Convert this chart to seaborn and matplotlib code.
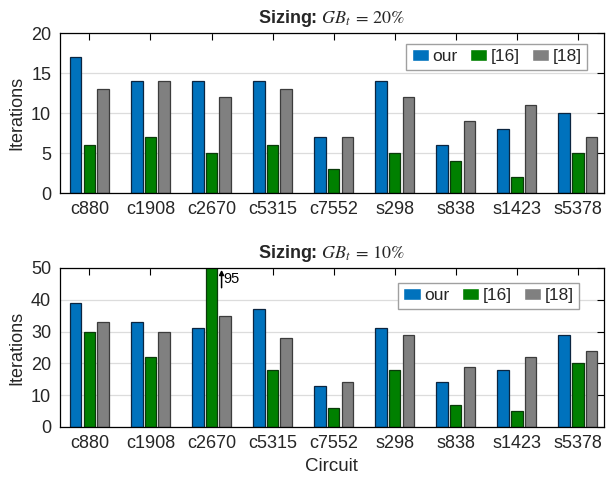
import matplotlib
matplotlib.use("Agg")
import matplotlib.pyplot as plt
import seaborn as sns
import pandas as pd

circuits = ["c880", "c1908", "c2670", "c5315", "c7552", "s298", "s838", "s1423", "s5378"]
methods = ["our", "[16]", "[18]"]

# Iterations at GB_t = 20%
gb20_our = [17, 14, 14, 14, 7, 14, 6, 8, 10]
gb20_ref16 = [6, 7, 5, 6, 3, 5, 4, 2, 5]
gb20_ref18 = [13, 14, 12, 13, 7, 12, 9, 11, 7]

# Iterations at GB_t = 10%
gb10_our = [39, 33, 31, 37, 13, 31, 14, 18, 29]
gb10_ref16 = [30, 22, 95, 18, 6, 18, 7, 5, 20]
gb10_ref18 = [33, 30, 35, 28, 14, 29, 19, 22, 24]

top_ticks = [0, 5, 10, 15, 20]
bottom_ticks = [0, 10, 20, 30, 40, 50]

colors = {"our": "#0072BD", "[16]": "#008000", "[18]": "#808080"}
edges = {"our": "#0B2540", "[16]": "#0A3A0A", "[18]": "#3C3C3C"}


def long_frame(our, r16, r18):
    rows = []
    for name, vals in zip(methods, [our, r16, r18]):
        for c, v in zip(circuits, vals):
            rows.append({"Circuit": c, "Method": name, "Iterations": v})
    return pd.DataFrame(rows)


sns.set_style("white")
plt.rcParams["font.family"] = ["Liberation Sans", "DejaVu Sans"]
plt.rcParams["mathtext.fontset"] = "stix"

fig = plt.figure(figsize=(6.06, 4.84), dpi=100)
ax_top = fig.add_axes([0.0982, 0.6012, 0.8985, 0.3306])
ax_bot = fig.add_axes([0.0982, 0.1178, 0.8985, 0.3285])


def draw(ax, df, ticks, ymax, title, legend_anchor):
    sns.barplot(data=df, x="Circuit", y="Iterations", hue="Method",
                hue_order=methods, order=circuits, palette=colors,
                width=0.675, gap=0.156, ax=ax, errorbar=None, saturation=1)
    for cont, m in zip(ax.containers, methods):
        for p in cont.patches:
            p.set_edgecolor(edges[m])
            p.set_linewidth(0.9)
    ax.set_ylim(0, ymax)
    ax.set_xlim(-0.49, 8.43)
    ax.set_yticks(ticks)
    ax.yaxis.grid(True, color="#dcdcdc", linewidth=0.9)
    ax.set_axisbelow(True)
    for s in ax.spines.values():
        s.set_visible(True)
        s.set_color("black")
        s.set_linewidth(0.9)
    ax.tick_params(direction="in", length=5, width=0.8, top=True, right=True,
                   labelsize=13, colors="black", labelcolor="#262626", pad=6)
    ax.set_ylabel("Iterations", fontsize=13, color="#262626", labelpad=4)
    ax.set_title(title, fontsize=13, fontweight="bold", pad=7)
    handles, labels = ax.get_legend_handles_labels()
    ax.legend(handles, labels, ncol=3, loc="upper right",
              bbox_to_anchor=legend_anchor, borderaxespad=0, fontsize=12.5,
              frameon=True, fancybox=False, edgecolor="#a0a0a0",
              handlelength=1.0, handleheight=0.7, handletextpad=0.2,
              columnspacing=0.7, borderpad=0.3, framealpha=1)


draw(ax_top, long_frame(gb20_our, gb20_ref16, gb20_ref18), top_ticks, 20,
     r"Sizing: $GB_t\,=\,20\%$", (0.969, 0.931))
ax_top.set_xlabel("")

draw(ax_bot, long_frame(gb10_our, gb10_ref16, gb10_ref18), bottom_ticks, 50,
     r"Sizing: $GB_t\,=\,10\%$", (0.954, 0.906))
ax_bot.set_xlabel("Circuit", fontsize=13.5, color="#262626", labelpad=4)

# Value marker for the clipped [16] bar on c2670
clip_idx = circuits.index("c2670")
clip_val = gb10_ref16[clip_idx]
ax_bot.annotate("", xy=(clip_idx + 0.165, 49.4), xytext=(clip_idx + 0.165, 43.8),
                arrowprops=dict(arrowstyle="-|>", color="black", lw=1.1,
                                mutation_scale=7, shrinkA=0, shrinkB=0))
ax_bot.text(clip_idx + 0.2, 46.4, f"{clip_val}", fontsize=10.5, va="center",
            ha="left", color="black")

fig.savefig("out.png", dpi=100)
